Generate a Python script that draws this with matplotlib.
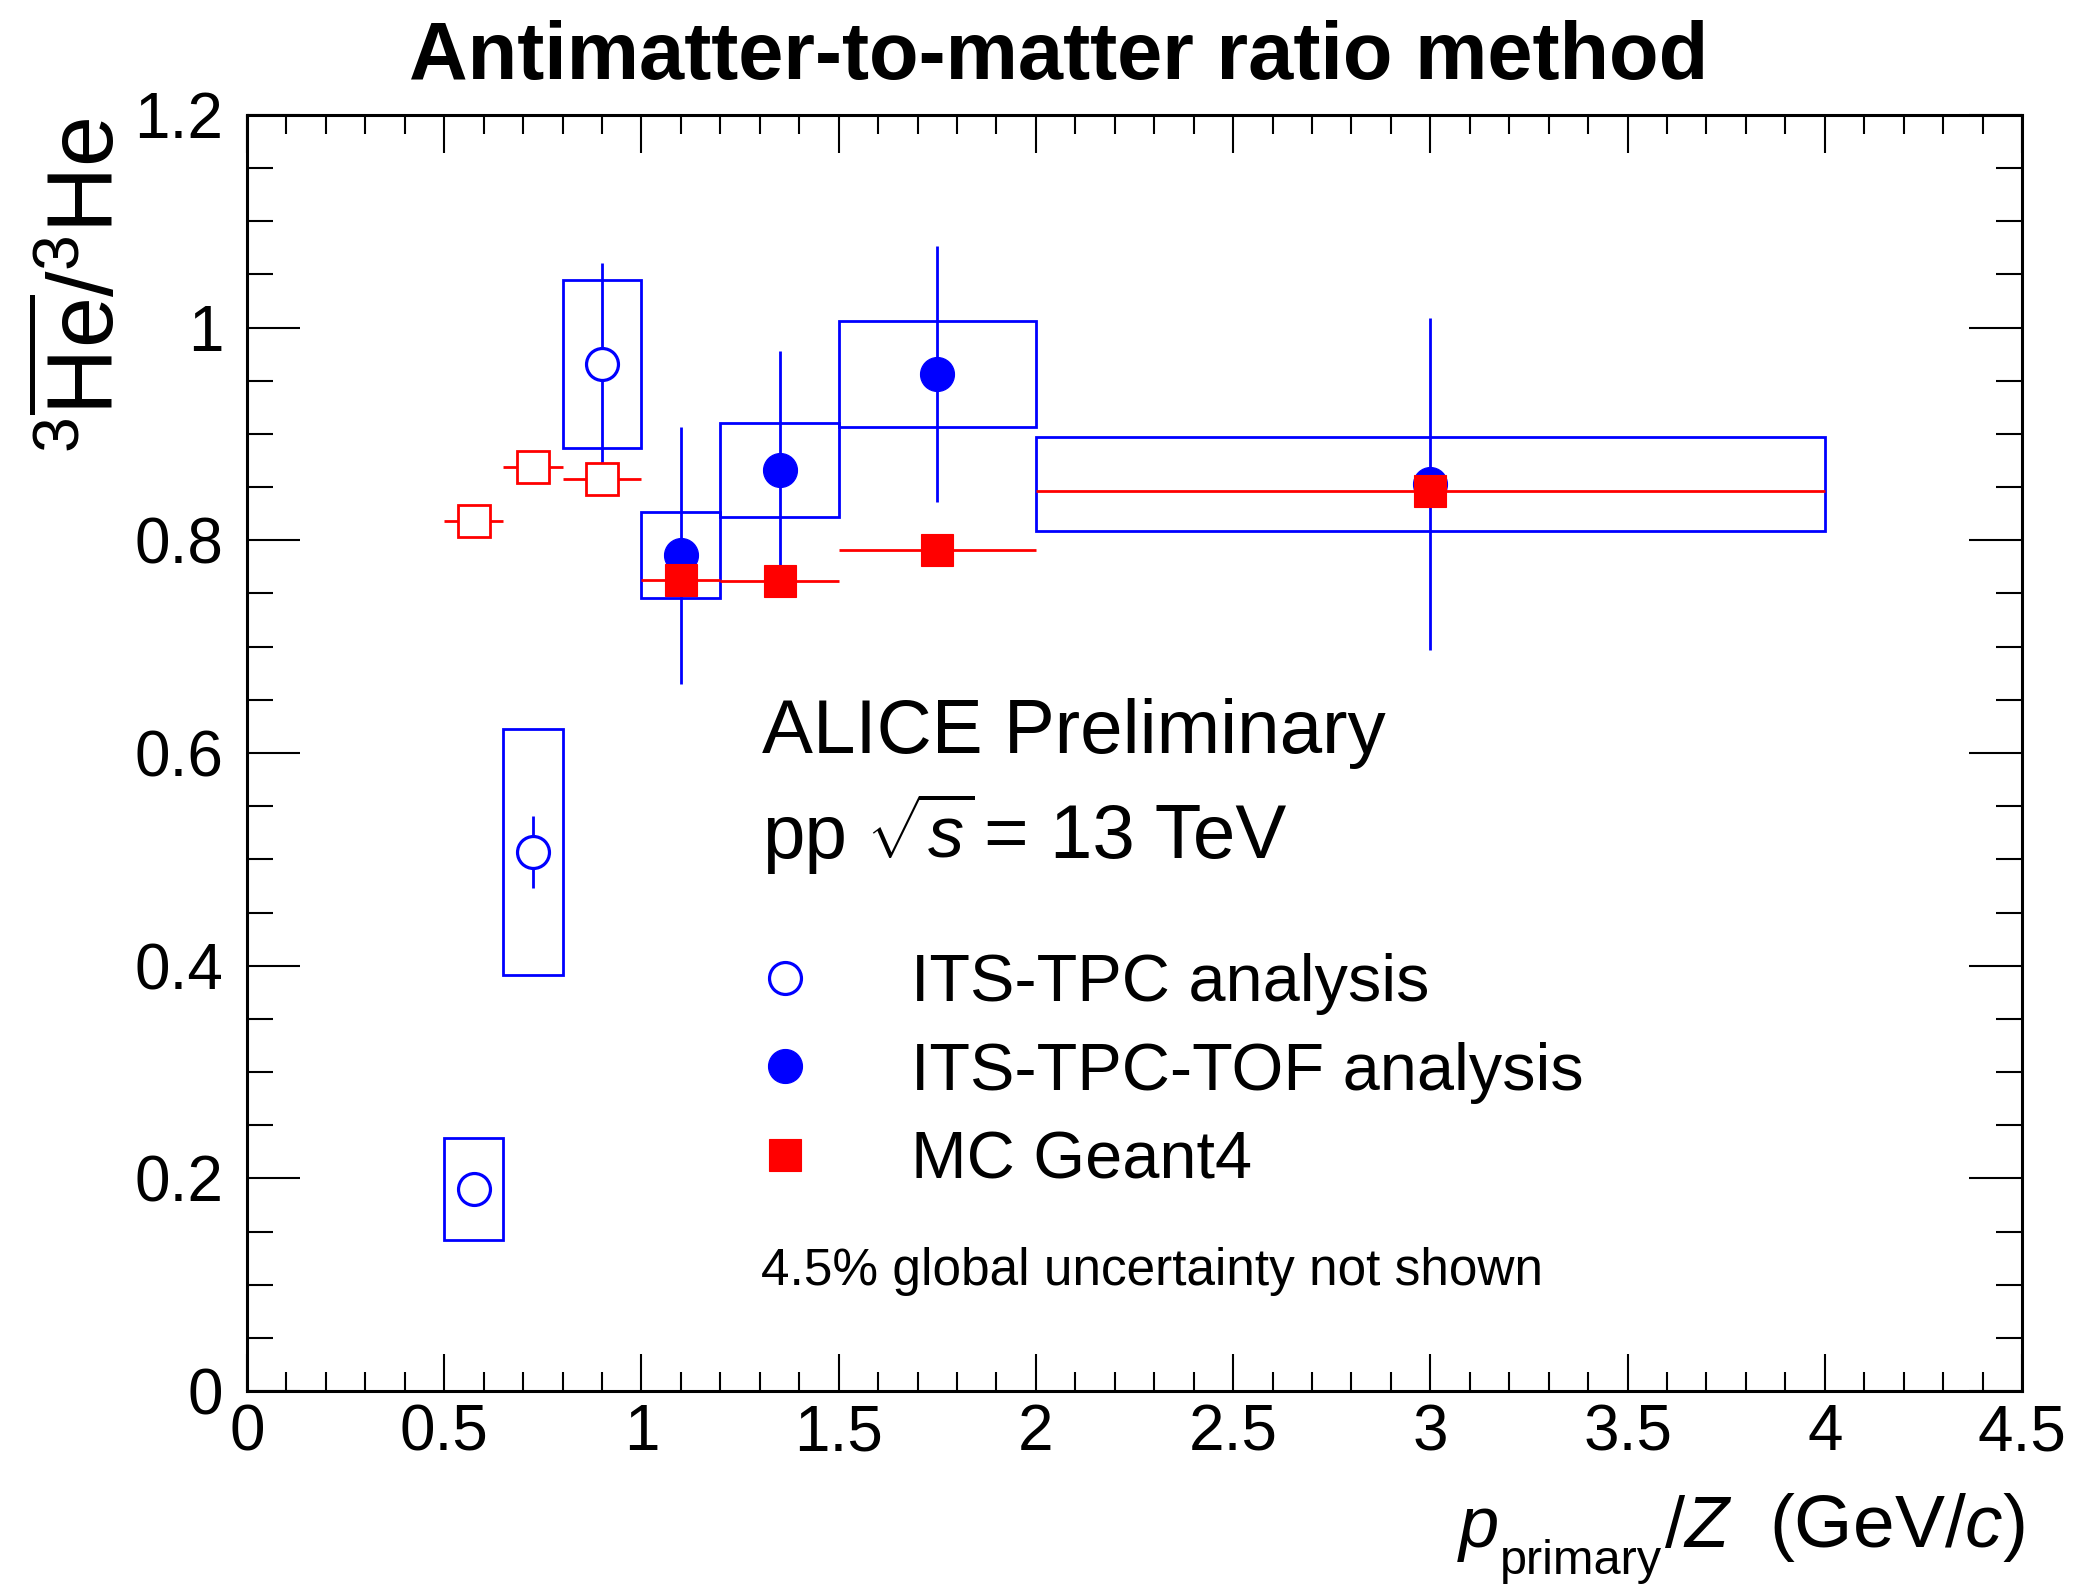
#!/usr/bin/env python3

import matplotlib
matplotlib.use("Agg")
import matplotlib.pyplot as plt
from matplotlib.patches import Rectangle
from matplotlib.ticker import MultipleLocator

plt.rcParams["font.family"] = ["Liberation Sans", "DejaVu Sans"]
plt.rcParams["mathtext.fontset"] = "custom"
plt.rcParams["mathtext.rm"] = "Liberation Sans"
plt.rcParams["mathtext.it"] = "Liberation Sans:italic"
plt.rcParams["mathtext.bf"] = "Liberation Sans:bold"

# ITS-TPC analysis (open circles)
its_x = [0.575, 0.725, 0.9]
its_lo = [0.5, 0.65, 0.8]
its_hi = [0.65, 0.8, 1.0]
its_y = [0.190, 0.507, 0.966]
its_stat = [0.012, 0.034, 0.095]
its_syst = [0.048, 0.116, 0.079]

# ITS-TPC-TOF analysis (filled circles)
tof_x = [1.1, 1.35, 1.75, 3.0]
tof_lo = [1.0, 1.2, 1.5, 2.0]
tof_hi = [1.2, 1.5, 2.0, 4.0]
tof_y = [0.786, 0.866, 0.9565, 0.853]
tof_stat = [0.121, 0.112, 0.120, 0.156]
tof_syst = [0.0405, 0.0445, 0.0497, 0.044]

# MC Geant4
mc_its_y = [0.8185, 0.869, 0.8575]
mc_tof_y = [0.763, 0.762, 0.791, 0.846]

x_ticks = [0, 0.5, 1, 1.5, 2, 2.5, 3, 3.5, 4, 4.5]
x_tick_labels = ["0", "0.5", "1", "1.5", "2", "2.5", "3", "3.5", "4", "4.5"]
y_ticks = [0, 0.2, 0.4, 0.6, 0.8, 1.0, 1.2]
y_tick_labels = ["0", "0.2", "0.4", "0.6", "0.8", "1", "1.2"]

BLUE = "#0000ff"
RED = "#ff0000"
LW = 2.0

W, H = 2075, 1587
fig = plt.figure(figsize=(W / 100, H / 100), dpi=100)
ax = fig.add_axes([247 / W, 1 - 1391 / H, (2022 - 247) / W, (1391 - 115) / H])

# systematic boxes
for x0, x1, y, s in zip(its_lo + tof_lo, its_hi + tof_hi, its_y + tof_y, its_syst + tof_syst):
    ax.add_patch(Rectangle((x0, y - s), x1 - x0, 2 * s, fill=False,
                           edgecolor=BLUE, linewidth=LW, zorder=2))

# statistical errors
ax.errorbar(its_x, its_y, yerr=its_stat, fmt="none", ecolor=BLUE, elinewidth=LW,
            capsize=0, zorder=2.5)
ax.errorbar(tof_x, tof_y, yerr=tof_stat, fmt="none", ecolor=BLUE, elinewidth=LW,
            capsize=0, zorder=2.5)

# MC horizontal bin widths
its_xerr = [[c - l for c, l in zip(its_x, its_lo)], [h - c for c, h in zip(its_x, its_hi)]]
tof_xerr = [[c - l for c, l in zip(tof_x, tof_lo)], [h - c for c, h in zip(tof_x, tof_hi)]]
ax.errorbar(its_x, mc_its_y, xerr=its_xerr, fmt="none", ecolor=RED, elinewidth=LW,
            capsize=0, zorder=3.5)
ax.errorbar(tof_x, mc_tof_y, xerr=tof_xerr, fmt="none", ecolor=RED, elinewidth=LW,
            capsize=0, zorder=3.5)

# markers
ax.plot(its_x, its_y, linestyle="none", marker="o", ms=23, mew=2.3, mfc="white",
        mec=BLUE, zorder=3, label="ITS-TPC analysis")
ax.plot(tof_x, tof_y, linestyle="none", marker="o", ms=24.5, mew=0.8, mfc=BLUE,
        mec=BLUE, zorder=3, label="ITS-TPC-TOF analysis")
ax.plot(its_x, mc_its_y, linestyle="none", marker="s", ms=22.5, mew=2.0, mfc="white",
        mec=RED, zorder=4)
ax.plot(tof_x, mc_tof_y, linestyle="none", marker="s", ms=23.5, mew=0.8, mfc=RED,
        mec=RED, zorder=4, label="MC Geant4")

ax.set_xlim(0, 4.5)
ax.set_ylim(0, 1.2)
ax.set_xticks(x_ticks)
ax.set_xticklabels(x_tick_labels)
ax.set_yticks(y_ticks)
ax.set_yticklabels(y_tick_labels)
ax.xaxis.set_minor_locator(MultipleLocator(0.1))
ax.yaxis.set_minor_locator(MultipleLocator(0.05))

for s in ax.spines.values():
    s.set_linewidth(2.2)
ax.tick_params(which="both", direction="in", top=True, right=True, width=1.5)
ax.tick_params(axis="x", which="major", length=27, labelsize=46, pad=9)
ax.tick_params(axis="x", which="minor", length=13.5)
ax.tick_params(axis="y", which="major", length=38, labelsize=46, pad=17)
ax.tick_params(axis="y", which="minor", length=19)

# x axis title, ROOT style with a low subscript
fig.text(1457 / W, 1 - 1547 / H, "$p$", fontsize=52, va="baseline")
fig.text(1500 / W, 1 - 1574 / H, "primary", fontsize=35, va="baseline")
fig.text(1664 / W, 1 - 1547 / H, "/$Z$", fontsize=52, va="baseline")
fig.text(2025 / W, 1 - 1547 / H, "(GeV/$c$)", fontsize=54, va="baseline", ha="right")

# y axis title
fig.text(114 / W, 1 - 117 / H, r"$^{3}\overline{\mathrm{He}}/^{3}\mathrm{He}$",
         fontsize=66, rotation=90, rotation_mode="anchor", ha="right", va="baseline")

fig.text(1059 / W, 1 - 79 / H, "Antimatter-to-matter ratio method", fontsize=58.5,
         fontweight="bold", ha="center", va="baseline")

fig.text(762 / W, 1 - 753 / H, "ALICE Preliminary", fontsize=55, va="baseline")
fig.text(762 / W, 1 - 858 / H, "pp", fontsize=55, va="baseline")
fig.text(866 / W, 1 - 858 / H, r"$\sqrt{s}$", fontsize=52, va="baseline")
fig.text(984 / W, 1 - 858 / H, "= 13 TeV", fontsize=55, va="baseline")
fig.text(761 / W, 1 - 1285 / H, "4.5% global uncertainty not shown", fontsize=37,
         va="baseline")

ax.legend(loc="upper left", bbox_to_anchor=(718 / W, 1 - 953 / H),
          bbox_transform=fig.transFigure, frameon=False, fontsize=48,
          handlelength=2.0, handletextpad=0.9, borderpad=0, borderaxespad=0,
          labelspacing=0.4, numpoints=1)

fig.savefig("out.png", dpi=100)
